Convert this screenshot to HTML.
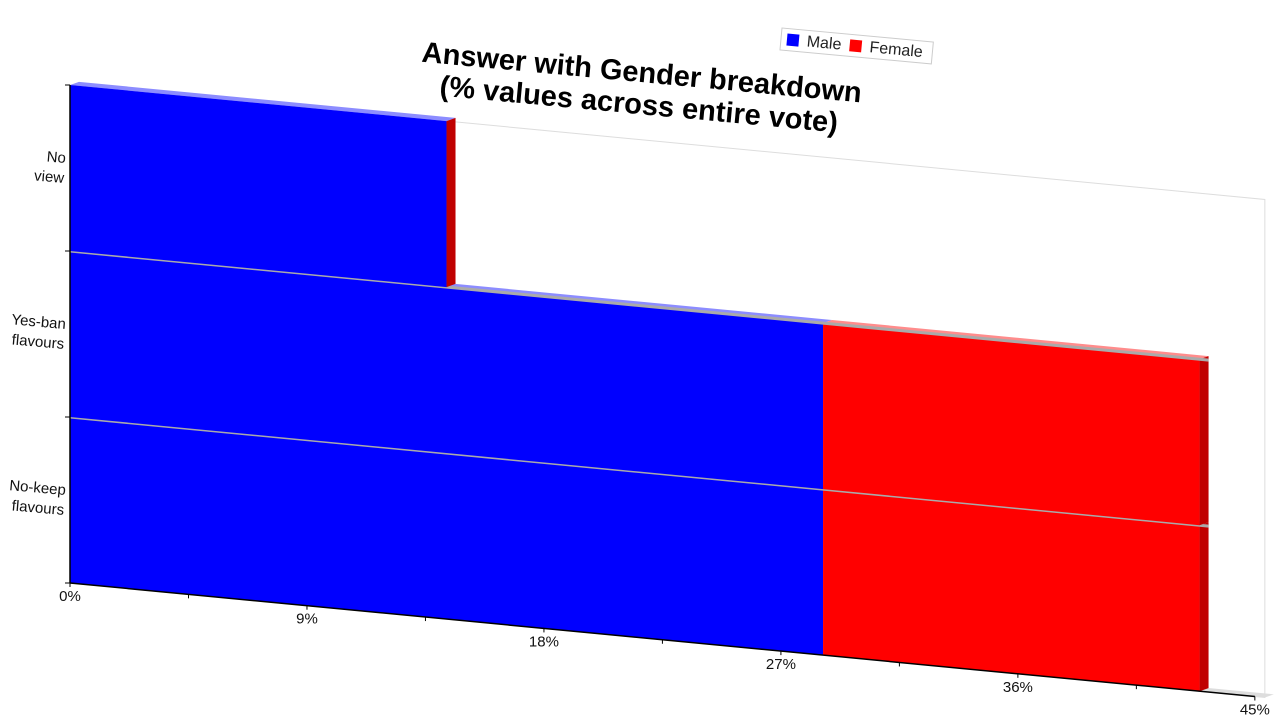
<!DOCTYPE html>
<html><head><meta charset="utf-8"><style>
html,body{margin:0;padding:0;background:#fff;width:1280px;height:720px;overflow:hidden}
svg{display:block;font-family:"Liberation Sans",sans-serif}
</style></head><body>
<svg id="chart" width="1280" height="720">
  <g id="skew"></g>
  <g id="labels"></g>
  <g transform="translate(640,92) rotate(5.3)">
    <text x="0" y="-10" text-anchor="middle" font-size="29" font-weight="bold" fill="#000">Answer with Gender breakdown</text>
    <text x="0" y="22" text-anchor="middle" font-size="29" font-weight="bold" fill="#000">(% values across entire vote)</text>
  </g>
  <g transform="translate(782,28) rotate(5.3)">
    <rect x="0" y="0" width="152" height="22" fill="#fff" stroke="#ccc"/>
    <rect x="6" y="5" width="12" height="12" fill="#0000ff"/>
    <text x="26" y="16" font-size="16" fill="#222">Male</text>
    <rect x="69" y="5" width="12" height="12" fill="#ff0000"/>
    <text x="89" y="16" font-size="16" fill="#222">Female</text>
  </g>
</svg>
<script>
const categories = ["No view", "Yes-ban flavours", "No-keep flavours"];
const maleValues = [14.3, 28.6, 28.6];
const femaleValues = [0, 14.3, 14.3];
const xTicks = [0, 9, 18, 27, 36, 45];

const NS = "http://www.w3.org/2000/svg";
const X0 = 70, Y0 = 85, PX = 26.33, H = 498, K = 0.0958, DX = 9, DY = -4;
const bandH = H / categories.length;
const xs = v => X0 + v * PX;
const skew = (x, y) => [x, y + K * (x - X0)];
const g = document.getElementById('skew');
const lg = document.getElementById('labels');
function mk(tag, attrs, parent) {
  const e = document.createElementNS(NS, tag);
  for (const k in attrs) e.setAttribute(k, attrs[k]);
  parent.appendChild(e); return e;
}
function poly(pts, fill, parent) {
  return mk('polygon', {points: pts.map(p => skew(p[0], p[1]).join(',')).join(' '), fill: fill}, parent);
}
// back wall / frame
const frame = poly([[X0, Y0], [xs(45) + 10, Y0], [xs(45) + 10, Y0 + H], [X0, Y0 + H]], '#fff', g);
frame.setAttribute('stroke', '#ddd');


// floor strip
const floor = poly([[X0, Y0 + H], [xs(45) + 10, Y0 + H], [xs(45) + 10 + DX, Y0 + H + DY], [X0 + DX, Y0 + H + DY]], '#ddd', g);


const series = [
  {vals: maleValues, front: '#0000ff', top: '#8c8cff', side: '#0000b8', name: 'male'},
  {vals: femaleValues, front: '#ff0000', top: '#ff8c8c', side: '#c00000', name: 'female'}
];
for (let i = categories.length - 1; i >= 0; i--) {
  const yt = Y0 + i * bandH, yb = yt + bandH;
  let acc = 0, last = null;
  series.forEach(s => {
    const v = s.vals[i];
    const a = xs(acc), b = xs(acc + v);
    if (v > 0) {
      const t = poly([[a, yt], [b, yt], [b + DX, yt + DY], [a + DX, yt + DY]], s.top, g);
      
      
      const f = poly([[a, yt], [b, yt], [b, yb], [a, yb]], s.front, g);
      
      
    }
    acc += v; last = s;
  });
  const e = xs(acc);
  const sd = poly([[e, yt], [e + DX, yt + DY], [e + DX, yb + DY], [e, yb]], series[1].side, g);
  
  
  if (i > 0) {
    const p1 = skew(X0, yt), p2 = skew(e + DX, yt);
    const sep = mk('line', {x1: p1[0], y1: p1[1], x2: p2[0], y2: p2[1], stroke: '#aaa', 'stroke-width': 3}, g);
    
    
  }
}
// axes
const a1 = skew(X0, Y0), a2 = skew(X0, Y0 + H), a3 = skew(xs(45), Y0 + H);
const yAxis = mk('line', {x1: a1[0], y1: a1[1], x2: a2[0], y2: a2[1], stroke: '#000', 'stroke-width': 1.5}, lg);


const xAxis = mk('line', {x1: a2[0], y1: a2[1], x2: a3[0], y2: a3[1], stroke: '#000', 'stroke-width': 1.5}, lg);


for (let i = 0; i <= categories.length; i++) {
  const p = skew(X0, Y0 + i * bandH);
  mk('line', {x1: p[0] - 5, y1: p[1], x2: p[0], y2: p[1], stroke: '#000'}, lg);
}
categories.forEach((c, i) => {
  const p = skew(X0, Y0 + (i + 0.5) * bandH);
  const parts = c.split(' ');
  const lines = parts.length > 1 ? [parts[0], parts.slice(1).join(' ')] : [c];
  const t = mk('text', {x: 65, y: p[1] - (lines.length - 1) * 10 + 5, 'text-anchor': 'end', 'font-size': 15, fill: '#111', transform: `rotate(5 65 ${p[1]})`}, lg);
  
  
  lines.forEach((l, j) => { const ts = mk('tspan', {x: 65, dy: j ? 20 : 0}, t); ts.textContent = l; });
});
for (let v = 4.5; v < 45; v += 9) {
  const p = skew(xs(v), Y0 + H);
  mk('line', {x1: p[0], y1: p[1], x2: p[0], y2: p[1] + 4, stroke: '#000'}, lg);
}
xTicks.forEach(v => {
  const p = skew(xs(v), Y0 + H);
  mk('line', {x1: p[0], y1: p[1], x2: p[0], y2: p[1] + 4, stroke: '#000'}, lg);
  const t = mk('text', {x: p[0], y: p[1] + 18, 'text-anchor': 'middle', 'font-size': 15, fill: '#111'}, lg);
  
  
  t.textContent = v + '%';
});
</script>
</body></html>
